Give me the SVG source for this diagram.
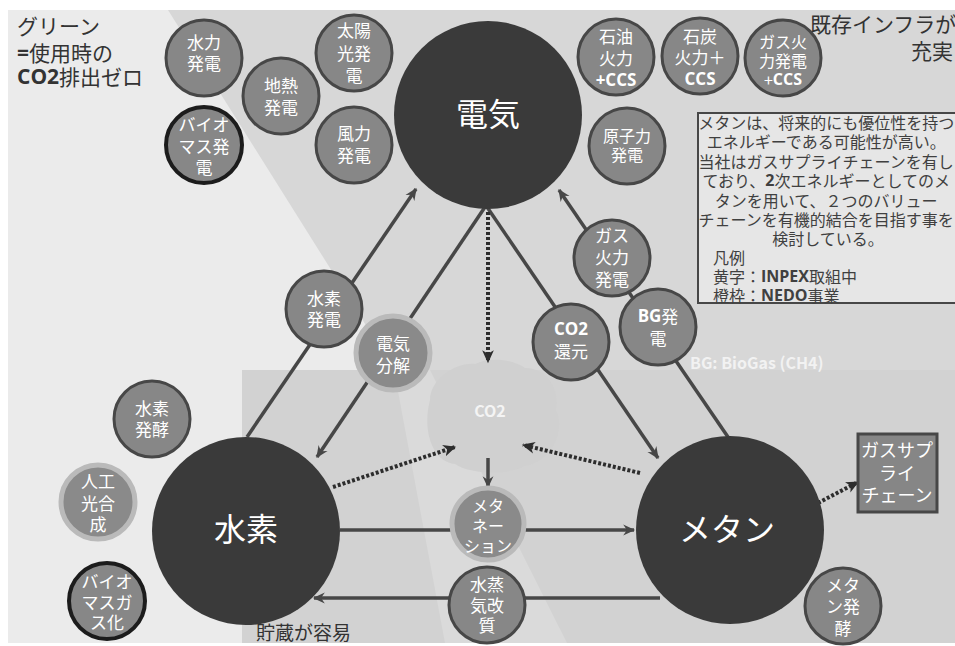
<svg xmlns="http://www.w3.org/2000/svg" width="955" height="646" viewBox="0 0 955 646">
<defs>
<style>
text{font-family:"Noto Sans CJK JP","Noto Sans",sans-serif;}
.big{fill:#3a3a3a;}
.bt{fill:#fff;font-size:32px;text-anchor:middle;dominant-baseline:central;}
.sm{fill:#878787;stroke:#474747;stroke-width:3;}
.nedo{fill:#878787;stroke:#1c1c1c;stroke-width:4;}
.pale{fill:#8a8a8a;stroke:#bababa;stroke-width:5;}
.st{fill:#fff;font-size:17px;text-anchor:middle;dominant-baseline:central;}
.s16{font-size:16px;}
.b{font-weight:bold;font-family:"Open Sans","Noto Sans",sans-serif;}
.conn{stroke:#474747;stroke-width:3.5;fill:none;marker-end:url(#ah);}
.dot{stroke:#2d2d2d;stroke-width:4;stroke-dasharray:3 2;fill:none;marker-end:url(#ahd);}
.lbl{fill:#333;font-size:21px;dominant-baseline:central;}
.lg{fill:#404040;font-size:16px;dominant-baseline:central;}
</style>
<marker id="ah" viewBox="0 0 12 12" refX="10" refY="6" markerWidth="13" markerHeight="13" markerUnits="userSpaceOnUse" orient="auto"><path d="M0,1 L11,6 L0,11 L3.5,6 z" fill="#474747"/></marker>
<marker id="ahd" viewBox="0 0 12 12" refX="10" refY="6" markerWidth="14" markerHeight="14" markerUnits="userSpaceOnUse" orient="auto"><path d="M0,1 L11,6 L0,11 L3,6 z" fill="#2d2d2d"/></marker>
</defs>

<g id="background">
<rect x="0" y="0" width="955" height="646" fill="#ffffff"/>
<rect x="8" y="10" width="947" height="633" fill="#d7d7d7"/>
<polygon points="8,10 168,10 394,370 567,643 8,643" fill="#ebebeb"/>
<rect x="242" y="370" width="713" height="273" fill="#d2d2d2"/>
<polygon points="394,370 430,370 567,643 445,643" fill="#dadada"/>
<path d="M430,400 C430,380 455,362 475,364 C490,356 515,360 525,368 C548,368 560,390 556,410 C566,430 552,462 525,466 C505,476 470,474 455,464 C432,462 422,430 430,400 Z" fill="#d0d0d0"/>
</g>

<g id="labels">
<text class="lbl" x="17" y="25">グリーン</text>
<text class="lbl" x="17" y="52"><tspan class="b">=</tspan>使用時の</text>
<text class="lbl" x="17" y="76"><tspan class="b">CO2</tspan>排出ゼロ</text>
<text class="lbl" x="810" y="23">既存インフラが</text>
<text class="lbl" x="953" y="50" text-anchor="end">充実</text>
<text class="lbl" x="256" y="631" style="font-size:19px">貯蔵が容易</text>
<text x="690" y="362" fill="#f2f2f2" font-size="16" font-weight="bold" font-family="Open Sans, Noto Sans, sans-serif" dominant-baseline="central">BG: BioGas (CH4)</text>
<text x="490" y="410" fill="#f4f4f4" font-size="16" font-weight="bold" font-family="Open Sans, Noto Sans, sans-serif" text-anchor="middle" dominant-baseline="central">CO2</text>
</g>

<g id="legend">
<rect x="698" y="113" width="262" height="190" fill="#e6e6e6" stroke="#474747" stroke-width="2"/>
<text class="lg" text-anchor="middle">
<tspan x="828" y="122">メタンは、将来的にも優位性を持つ</tspan>
<tspan x="828" y="141">エネルギーである可能性が高い。</tspan>
<tspan x="828" y="161">当社はガスサプライチェーンを有し</tspan>
<tspan x="828" y="180">ており、<tspan class="b">2</tspan>次エネルギーとしてのメ</tspan>
<tspan x="828" y="200">タンを用いて、２つのバリュー</tspan>
<tspan x="828" y="219">チェーンを有機的結合を目指す事を</tspan>
<tspan x="828" y="238">検討している。</tspan>
</text>
<text class="lg" x="713" y="257">凡例</text>
<text class="lg" x="713" y="276">黄字：<tspan class="b">INPEX</tspan>取組中</text>
<text class="lg" x="713" y="295">橙枠：<tspan class="b">NEDO</tspan>事業</text>
</g>

<g id="connectors">
<path class="conn" d="M247,437 L416,189"/>
<path class="conn" d="M485,207 L317,457"/>
<path class="conn" d="M487,207 L658,458"/>
<path class="conn" d="M728,437 L559,190"/>
<path class="conn" d="M340,530 L634,530"/>
<path class="conn" d="M660,598 L314,598"/>
<path class="conn" d="M488,458 L488,487"/>
<path class="dot" d="M488,212 L488,362"/>
<path class="dot" d="M333,487 L455,447"/>
<path class="dot" d="M640,473 L523,445"/>
<path class="dot" d="M818,503 L858,482"/>
</g>

<g id="n-denki"><circle class="big" cx="488" cy="115" r="94"/><text class="bt" x="488" y="112">電気</text></g>
<g id="n-suiso"><circle class="big" cx="246" cy="531" r="94"/><text class="bt" x="246" y="527">水素</text></g>
<g id="n-methane"><circle class="big" cx="730" cy="530" r="94"/><text class="bt" x="727" y="527">メタン</text></g>

<g id="n-suiryoku"><circle class="sm" cx="204" cy="58" r="38"/><text class="st"><tspan x="204" y="41">水力</tspan><tspan x="204" y="62">発電</tspan></text></g>
<g id="n-chinetsu"><circle class="sm" cx="281" cy="96" r="38"/><text class="st"><tspan x="281" y="84">地熱</tspan><tspan x="281" y="106">発電</tspan></text></g>
<g id="n-biomass-power"><circle class="nedo" cx="204" cy="145" r="38"/><text class="st"><tspan x="204" y="123">バイオ</tspan><tspan x="204" y="145">マス発</tspan><tspan x="204" y="166">電</tspan></text></g>
<g id="n-solar"><circle class="sm" cx="354" cy="53" r="38"/><text class="st"><tspan x="354" y="29">太陽</tspan><tspan x="354" y="52">光発</tspan><tspan x="354" y="74">電</tspan></text></g>
<g id="n-wind"><circle class="sm" cx="354" cy="145" r="38"/><text class="st"><tspan x="354" y="132">風力</tspan><tspan x="354" y="154">発電</tspan></text></g>
<g id="n-oil"><circle class="sm" cx="616" cy="57" r="38"/><text class="st"><tspan x="616" y="35">石油</tspan><tspan x="616" y="57">火力</tspan><tspan x="616" y="79" class="b">+CCS</tspan></text></g>
<g id="n-nuclear"><circle class="sm" cx="627" cy="146" r="38"/><text class="st s16"><tspan x="627" y="135">原子力</tspan><tspan x="627" y="154">発電</tspan></text></g>
<g id="n-coal"><circle class="sm" cx="700" cy="56" r="38"/><text class="st"><tspan x="700" y="35">石炭</tspan><tspan x="700" y="56">火力＋</tspan><tspan x="700" y="78" class="b">CCS</tspan></text></g>
<g id="n-gas-ccs"><circle class="sm" cx="783" cy="58" r="38"/><text class="st s16"><tspan x="783" y="41">ガス火</tspan><tspan x="783" y="60">力発電</tspan><tspan x="783" y="79">+<tspan class="b">CCS</tspan></tspan></text></g>
<g id="n-gas-power"><circle class="sm" cx="612" cy="258" r="38"/><text class="st"><tspan x="612" y="234">ガス</tspan><tspan x="612" y="256">火力</tspan><tspan x="612" y="278">発電</tspan></text></g>
<g id="n-bg-power"><circle class="sm" cx="658" cy="327" r="38"/><text class="st"><tspan x="658" y="315"><tspan class="b">BG</tspan>発</tspan><tspan x="658" y="337">電</tspan></text></g>
<g id="n-co2-reduction"><circle class="sm" cx="571" cy="342" r="38"/><text class="st"><tspan x="571" y="328" class="b">CO2</tspan><tspan x="571" y="350">還元</tspan></text></g>
<g id="n-h2-power"><circle class="sm" cx="324" cy="309" r="38"/><text class="st"><tspan x="324" y="297">水素</tspan><tspan x="324" y="318">発電</tspan></text></g>
<g id="n-electrolysis"><circle class="pale" cx="393" cy="353" r="37"/><text class="st"><tspan x="393" y="342">電気</tspan><tspan x="393" y="364">分解</tspan></text></g>
<g id="n-h2-ferment"><circle class="sm" cx="152" cy="419" r="38"/><text class="st"><tspan x="152" y="407">水素</tspan><tspan x="152" y="428">発酵</tspan></text></g>
<g id="n-photosynthesis"><circle class="pale" cx="98" cy="502" r="37"/><text class="st"><tspan x="98" y="480">人工</tspan><tspan x="98" y="502">光合</tspan><tspan x="98" y="523">成</tspan></text></g>
<g id="n-gasification"><circle class="nedo" cx="107" cy="601" r="38"/><text class="st"><tspan x="107" y="580">バイオ</tspan><tspan x="107" y="601">マスガ</tspan><tspan x="107" y="621">ス化</tspan></text></g>
<g id="n-methanation"><circle class="pale" cx="488" cy="524" r="36"/><text class="st s16"><tspan x="488" y="505">メタ</tspan><tspan x="488" y="525">ネー</tspan><tspan x="488" y="545">ション</tspan></text></g>
<g id="n-reforming"><circle class="sm" cx="487" cy="605" r="38"/><text class="st"><tspan x="487" y="583">水蒸</tspan><tspan x="487" y="604">気改</tspan><tspan x="487" y="624">質</tspan></text></g>
<g id="n-methane-ferment"><circle class="sm" cx="843" cy="606" r="38"/><text class="st"><tspan x="843" y="584">メタ</tspan><tspan x="843" y="605">ン発</tspan><tspan x="843" y="627">酵</tspan></text></g>
<g id="n-supply-chain"><rect x="858" y="434" width="79" height="78" fill="#868686" stroke="#474747" stroke-width="3"/><text class="st" style="font-size:18px"><tspan x="897" y="449">ガスサプ</tspan><tspan x="897" y="472">ライ</tspan><tspan x="897" y="494">チェーン</tspan></text></g>
</svg>
